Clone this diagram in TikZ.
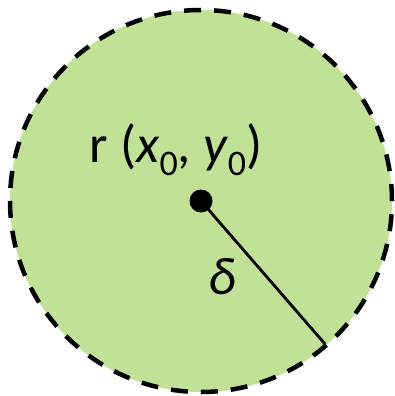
\documentclass[tikz,border=0pt]{standalone}
\usepackage{fontspec}
\setmainfont{Carlito}
\definecolor{discfill}{RGB}{192,226,150}
\begin{document}
\begin{tikzpicture}[x=1pt,y=-1pt,
  disc/.style={circle,draw=black,fill=discfill,line width=4.5pt,dash pattern=on 17pt off 13pt,minimum size=382pt,inner sep=0pt},
  centerdot/.style={circle,fill=black,minimum size=23pt,inner sep=0pt},
  lbl/.style={inner sep=0pt,font=\fontsize{53}{60}\selectfont}]
\useasboundingbox (0,0) rectangle (394,396);
\node[disc] (c) at (201,201) {};
\node[centerdot] (o) at (201,201) {};
\coordinate (e) at (325,344);
\draw[line width=2.8pt] (o.center) -- (e);
\node[lbl] (r) at (176,150) {r (\textit{x}\raisebox{-0.25em}{\fontsize{36}{40}\selectfont 0}, \textit{y}\raisebox{-0.25em}{\fontsize{36}{40}\selectfont 0})};
\node[lbl] (d) at (222,277) {\textit{δ}};
\end{tikzpicture}
\end{document}
